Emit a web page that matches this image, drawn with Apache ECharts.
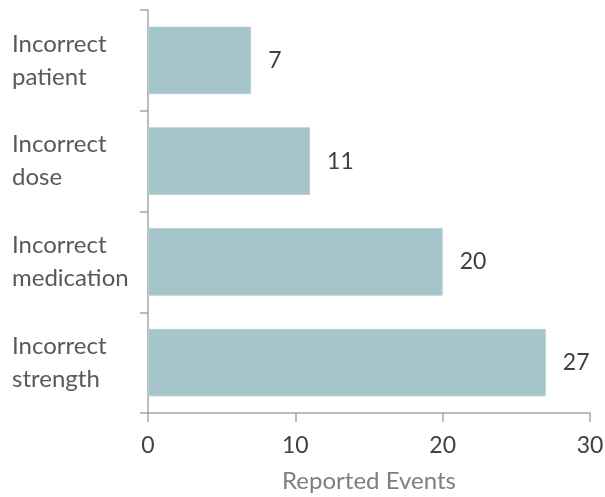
<!DOCTYPE html>
<html>
<head>
<meta charset="utf-8">
<script src="https://cdn.jsdelivr.net/npm/echarts@6/dist/echarts.min.js"></script>
<style>
  html, body { margin: 0; padding: 0; background: #fff; }
  #chart { width: 605px; height: 497px; }
</style>
</head>
<body>
<div id="chart"></div>
<script>
// bottom to top, as the category axis draws them
const categories = ['Incorrect\nstrength', 'Incorrect\nmedication', 'Incorrect\ndose', 'Incorrect\npatient']
const events = [27, 20, 11, 7]
const xTicks = { min: 0, max: 30, interval: 10 }

const font = 'Lato, "Open Sans", sans-serif'
const axisGray = '#a6a6a6'

const chart = echarts.init(document.getElementById('chart'))
chart.setOption({
  animation: false,
  grid: {
    left: 148,
    right: 15,
    top: 10,
    bottom: 84,
    containLabel: false,
    outerBoundsMode: 'none'
  },
  xAxis: {
    type: 'value',
    min: xTicks.min,
    max: xTicks.max,
    interval: xTicks.interval,
    name: 'Reported Events',
    nameLocation: 'middle',
    nameGap: 56,
    nameTextStyle: { color: '#7f7f7f', fontSize: 24, fontFamily: font },
    axisLine: { show: true, lineStyle: { color: axisGray, width: 1.5 } },
    axisTick: { show: true, inside: false, length: 9, lineStyle: { color: axisGray, width: 1.5 } },
    axisLabel: { color: '#404040', fontSize: 23, fontFamily: font, margin: 21 },
    splitLine: { show: false }
  },
  yAxis: {
    type: 'category',
    data: categories,
    axisLine: { show: true, lineStyle: { color: axisGray, width: 1.5 } },
    axisTick: { show: true, length: 8, lineStyle: { color: axisGray, width: 1.5 } },
    axisLabel: {
      color: '#595959',
      fontSize: 24,
      fontFamily: font,
      align: 'left',
      margin: 136,
      lineHeight: 33,
      padding: [6, 0, 0, 0]
    }
  },
  series: [
    {
      type: 'bar',
      data: events,
      barCategoryGap: '33%',
      itemStyle: { color: '#a5c5cb', borderColor: '#b4d0d5', borderWidth: 1 },
      label: {
        show: true,
        position: 'right',
        distance: 17,
        color: '#404040',
        fontSize: 23,
        fontFamily: font,
        padding: [3, 0, 0, 0]
      }
    }
  ]
})
</script>
</body>
</html>
